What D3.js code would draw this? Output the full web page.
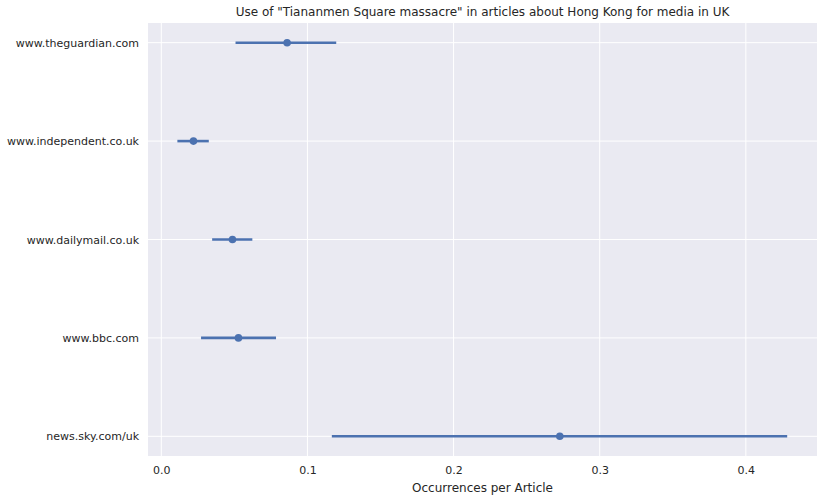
<!DOCTYPE html>
<html>
<head>
<meta charset="utf-8">
<script src="https://cdn.jsdelivr.net/npm/d3@7"></script>
<style>
body { margin: 0; background: #fff; }
text { font-family: "DejaVu Sans", sans-serif; fill: #262626; }
</style>
</head>
<body>
<script>
// outlets and their mean / CI values
const outlets = ["www.theguardian.com", "www.independent.co.uk", "www.dailymail.co.uk", "www.bbc.com", "news.sky.com/uk"];
const means = [0.0861, 0.0220, 0.0487, 0.0528, 0.2727];
const ciLow = [0.0508, 0.0110, 0.0348, 0.0272, 0.1167];
const ciHigh = [0.1197, 0.0325, 0.0623, 0.0785, 0.4283];
const xTicks = [0.0, 0.1, 0.2, 0.3, 0.4];

function draw() {
const width = 825;
const height = 501;
const margin = {left: 148, right: 8, top: 23, bottom: 45};

const svg = d3.select("body")
	.append("svg")
	.attr("width", width)
	.attr("height", height);

const x = d3.scaleLinear()
	.domain([-0.0091, 0.4487])
	.range([margin.left, width - margin.right]);

const y = d3.scaleLinear()
	.domain([-0.2, 4.2])
	.range([margin.top, height - margin.bottom]);

svg.append("rect")
	.attr("x", margin.left)
	.attr("y", margin.top)
	.attr("width", width - margin.left - margin.right)
	.attr("height", height - margin.top - margin.bottom)
	.attr("fill", "#eaeaf2");

// grid
svg.append("g")
	.selectAll("line")
	.data(xTicks)
	.enter()
	.append("line")
	.attr("x1", d => x(d))
	.attr("x2", d => x(d))
	.attr("y1", margin.top)
	.attr("y2", height - margin.bottom)
	.attr("stroke", "#fff")
	.attr("stroke-width", 1);

svg.append("g")
	.selectAll("line")
	.data(outlets)
	.enter()
	.append("line")
	.attr("x1", margin.left)
	.attr("x2", width - margin.right)
	.attr("y1", (d, i) => y(i))
	.attr("y2", (d, i) => y(i))
	.attr("stroke", "#fff")
	.attr("stroke-width", 1);

// axes
const xAxis = svg.append("g")
	.attr("transform", "translate(0," + (height - margin.bottom) + ")")
	.call(d3.axisBottom(x).tickValues(xTicks).tickFormat(d3.format(".1f")).tickSize(0).tickPadding(10));
xAxis.select(".domain").remove();
xAxis.selectAll("text").style("font-size", "11px").attr("fill", "#262626");

const yAxis = svg.append("g")
	.attr("transform", "translate(" + margin.left + ",0)")
	.call(d3.axisLeft(y).tickValues(d3.range(outlets.length)).tickFormat(i => outlets[i]).tickSize(0).tickPadding(9));
yAxis.select(".domain").remove();
yAxis.selectAll("text").style("font-size", "11px").attr("fill", "#262626");

// error bars
svg.append("g")
	.selectAll("line")
	.data(outlets)
	.enter()
	.append("line")
	.attr("x1", (d, i) => x(ciLow[i]))
	.attr("x2", (d, i) => x(ciHigh[i]))
	.attr("y1", (d, i) => y(i))
	.attr("y2", (d, i) => y(i))
	.attr("stroke", "#4c72b0")
	.attr("stroke-width", 2.6);

svg.append("g")
	.selectAll("circle")
	.data(outlets)
	.enter()
	.append("circle")
	.attr("cx", (d, i) => x(means[i]))
	.attr("cy", (d, i) => y(i))
	.attr("r", 3.8)
	.attr("fill", "#4c72b0");

svg.append("text")
	.attr("x", (margin.left + width - margin.right) / 2)
	.attr("y", 16)
	.attr("text-anchor", "middle")
	.style("font-size", "12px")
	.text("Use of \"Tiananmen Square massacre\" in articles about Hong Kong for media in UK");

svg.append("text")
	.attr("x", (margin.left + width - margin.right) / 2)
	.attr("y", 492)
	.attr("text-anchor", "middle")
	.style("font-size", "12px")
	.text("Occurrences per Article");
}
window.onload = draw;
</script>
</body>
</html>
